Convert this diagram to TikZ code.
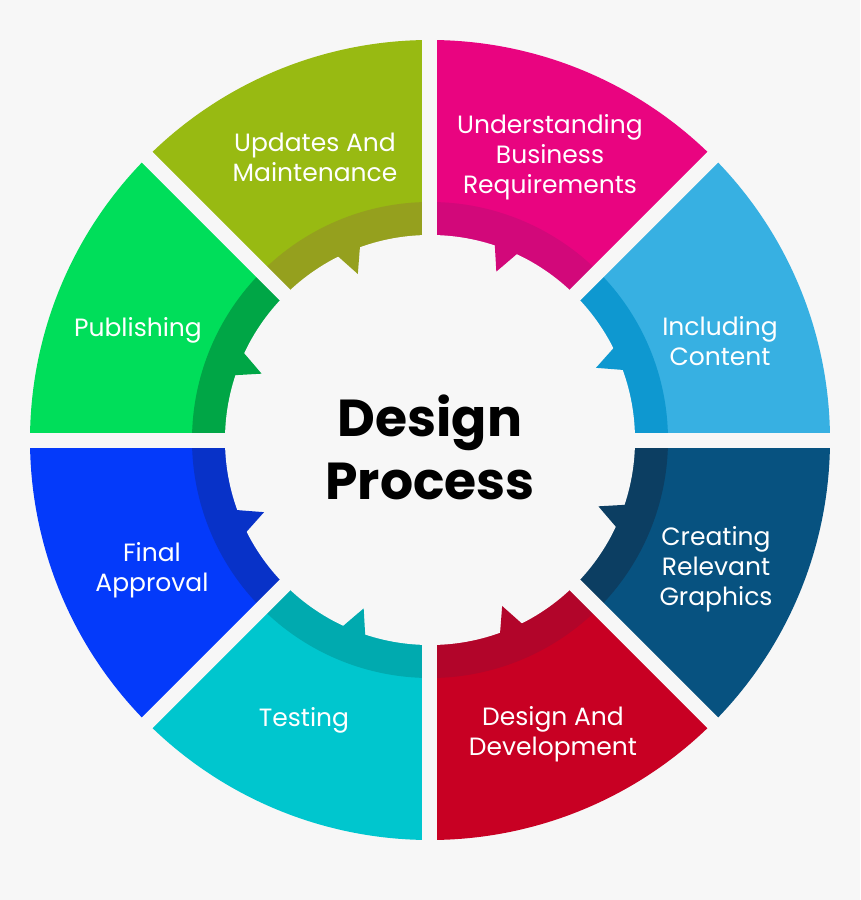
\documentclass[tikz,border=0pt]{standalone}
\usepackage{fontspec}
\setmainfont{Poppins}
\definecolor{pagebg}{RGB}{247,247,247}
\definecolor{reqpink}{RGB}{233,4,128}
\definecolor{reqband}{RGB}{210,8,122}
\definecolor{conblue}{RGB}{55,176,226}
\definecolor{conband}{RGB}{14,152,208}
\definecolor{grfnavy}{RGB}{7,82,128}
\definecolor{grfband}{RGB}{12,62,98}
\definecolor{devred}{RGB}{200,0,35}
\definecolor{devband}{RGB}{178,5,42}
\definecolor{tstteal}{RGB}{0,198,206}
\definecolor{tstband}{RGB}{0,170,175}
\definecolor{aprblue}{RGB}{4,58,250}
\definecolor{aprband}{RGB}{8,50,200}
\definecolor{pubgreen}{RGB}{0,222,90}
\definecolor{pubband}{RGB}{0,166,70}
\definecolor{updolive}{RGB}{152,186,18}
\definecolor{updband}{RGB}{149,160,30}
\tikzset{
  lbl/.style={text=white,align=center,inner sep=0,
              font=\fontsize{25}{30}\selectfont},
  title/.style={text=black,align=center,inner sep=0,
                font=\fontsize{52}{63}\selectfont\bfseries}
}

\begin{document}
\begin{tikzpicture}[x=1pt,y=1pt]
  \fill[pagebg] (-430,-460) rectangle (430,440);
  % ring segments, clockwise from the top
  \foreach \a/\outer/\band in {90/reqpink/reqband,45/conblue/conband,
      0/grfnavy/grfband,-45/devred/devband,-90/tstteal/tstband,
      -135/aprblue/aprband,180/pubgreen/pubband,135/updolive/updband}{%
    \fill[\outer] (0,0) -- (\a:400pt)
      arc[start angle=\a,end angle=\a-45,radius=400pt] -- cycle;
    \fill[\band] (0,0) -- (\a:238pt)
      arc[start angle=\a,end angle=\a-45,radius=238pt] -- cycle;
  }
  \fill[pagebg] (0,0) circle[radius=205pt];
  % teeth on the inner edge
  \foreach \a/\band in {90/reqband,45/conband,0/grfband,-45/devband,
      -90/tstband,-135/aprband,180/pubband,135/updband}{%
    \fill[\band] (\a-18:209pt) -- (\a-21.5:181pt) -- (\a-25.5:209pt) -- cycle;
  }
  % gaps between the segments
  \foreach \g in {0,45,90,135}
    \draw[pagebg,line width=15] (\g:410pt) -- (\g+180:410pt);

  \node[title] (center) at (0,-7) {Design\\Process};
  \node[lbl] (req) at (120,283) {Understanding\\Business\\Requirements};
  \node[lbl] (con) at (290,99) {Including\\Content};
  \node[lbl] (grf) at (286,-129) {Creating\\Relevant\\Graphics};
  \node[lbl] (dev) at (123,-294) {Design And\\Development};
  \node[lbl] (tst) at (-126,-280) {Testing};
  \node[lbl] (apr) at (-278,-130) {Final\\Approval};
  \node[lbl] (pub) at (-292,110) {Publishing};
  \node[lbl] (upd) at (-115,283) {Updates And\\Maintenance};
\end{tikzpicture}
\end{document}
